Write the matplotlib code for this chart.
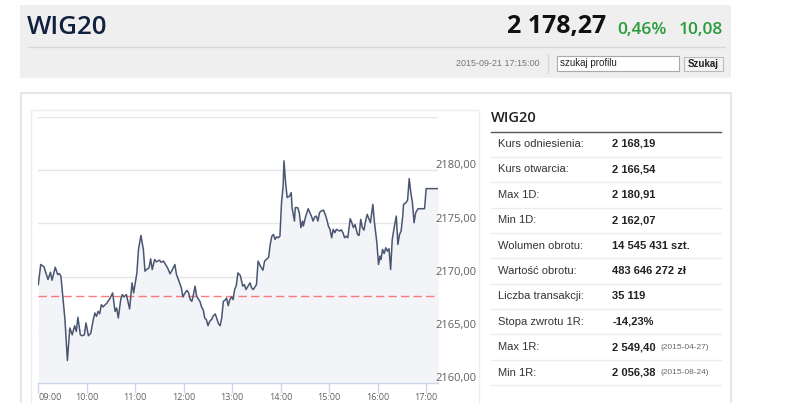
import matplotlib
matplotlib.use('Agg')
import matplotlib.pyplot as plt
from matplotlib.patches import Rectangle
from matplotlib.ticker import FixedLocator

plt.rcParams['font.family'] = ['Liberation Sans', 'DejaVu Sans']

# Notowania WIG20 - minuty od 09:00 i wartość indeksu
minuty = [0, 3, 7, 12, 15, 17, 21, 24, 26, 28, 31, 33, 36, 39, 42, 45, 47, 49, 52, 54,
          57, 59, 62, 65, 68, 70, 72, 74, 76, 78, 80, 85, 89, 92, 95, 97, 99, 102, 104, 106,
          109, 113, 116, 118, 122, 124, 127, 130, 132, 135, 137, 139, 141, 144, 146, 150, 152, 155, 157, 160,
          163, 166, 169, 171, 173, 177, 179, 181, 184, 186, 188, 190, 192, 194, 196, 198, 200, 202, 204, 206,
          208, 210, 212, 215, 216, 219, 221, 223, 225, 227, 229, 231, 233, 235, 237, 239, 241, 243, 245, 247,
          250, 253, 255, 257, 262, 264, 266, 270, 272, 275, 278, 280, 283, 285, 287, 289, 291, 293, 295, 297,
          299, 301, 303, 304, 306, 308, 311, 313, 314, 317, 318, 321, 323, 325, 327, 328, 331, 334, 336, 338,
          340, 342, 344, 346, 348, 350, 353, 355, 357, 359, 361, 363, 365, 367, 369, 373, 375, 377, 379, 381,
          383, 386, 388, 390, 392, 395, 397, 399, 401, 403, 405, 407, 409, 411, 414, 416, 419, 421, 423, 424,
          426, 428, 430, 432, 434, 436, 438, 440, 443, 445, 447, 449, 451, 452, 455, 457, 459, 461, 463, 465,
          467, 470, 478, 480, 495]
kurs = [2169.25, 2171.14, 2170.92, 2169.72, 2170.41, 2169.66, 2170.88, 2170.19, 2170.29, 2170.03,
        2167.52, 2165.95, 2162.11, 2165.17, 2164.53, 2165.38, 2164.85, 2166.17, 2164.53, 2164.44,
        2164.53, 2165.64, 2164.44, 2164.69, 2165.95, 2166.58, 2166.26, 2166.73, 2166.51, 2167.36,
        2167.15, 2167.52, 2167.99, 2168.47, 2166.73, 2167.05, 2166.11, 2167.84, 2168.31, 2168.09,
        2168.31, 2166.96, 2169.41, 2168.47, 2170.35, 2172.55, 2173.87, 2172.55, 2170.51, 2170.73,
        2170.82, 2171.67, 2170.66, 2171.61, 2171.39, 2171.54, 2171.35, 2171.45, 2171.20, 2170.82,
        2170.26, 2170.66, 2171.14, 2170.19, 2169.79, 2168.94, 2168.09, 2168.40, 2168.71, 2168.47,
        2167.84, 2167.68, 2168.31, 2169.10, 2168.15, 2167.90, 2167.68, 2167.15, 2166.89, 2166.11,
        2165.95, 2165.38, 2165.79, 2166.02, 2166.26, 2166.49, 2166.02, 2165.57, 2165.38, 2166.11,
        2167.68, 2167.77, 2167.99, 2167.27, 2167.84, 2168.09, 2167.84, 2168.80, 2169.16, 2170.35,
        2170.10, 2169.10, 2169.25, 2168.78, 2169.41, 2168.94, 2168.78, 2169.25, 2171.45, 2170.98,
        2170.60, 2171.45, 2171.67, 2171.80, 2173.02, 2173.80, 2173.96, 2173.49, 2173.74, 2173.65,
        2173.80, 2176.95, 2178.52, 2180.88, 2178.84, 2177.43, 2177.58, 2177.89, 2176.48, 2175.22,
        2176.48, 2176.48, 2176.01, 2174.60, 2175.22, 2174.75, 2175.69, 2176.38, 2176.01, 2175.69,
        2175.22, 2175.60, 2175.69, 2175.22, 2176.01, 2176.16, 2176.25, 2175.85, 2175.38, 2174.75,
        2174.44, 2173.65, 2174.44, 2174.13, 2174.44, 2174.28, 2174.40, 2174.13, 2173.65, 2173.80,
        2173.65, 2175.44, 2175.06, 2174.60, 2174.90, 2173.96, 2173.87, 2175.38, 2174.60, 2174.37,
        2175.20, 2175.85, 2175.44, 2175.06, 2176.79, 2175.06, 2173.17, 2171.14, 2171.92, 2171.61,
        2172.55, 2172.17, 2172.71, 2172.39, 2172.62, 2170.66, 2173.49, 2174.44, 2175.69, 2173.02,
        2173.96, 2174.28, 2175.69, 2176.79, 2176.95, 2177.20, 2179.21, 2177.89, 2176.95, 2175.06,
        2176.01, 2176.38, 2176.38, 2178.27, 2178.27]

kurs_odniesienia = 2168.19
godziny = ['09:00', '10:00', '11:00', '12:00', '13:00', '14:00', '15:00', '16:00', '17:00']
poziomy_y = [2160, 2165, 2170, 2175, 2180]

# Tabela z danymi
etykiety = ['Kurs odniesienia:', 'Kurs otwarcia:', 'Max 1D:', 'Min 1D:', 'Wolumen obrotu:',
            'Wartość obrotu:', 'Liczba transakcji:', 'Stopa zwrotu 1R:', 'Max 1R:', 'Min 1R:']
wartosci = ['2 168,19', '2 166,54', '2 180,91', '2 162,07', '14 545 431 szt.',
            '483 646 272 zł', '35 119', '-14,23%', '2 549,40', '2 056,38']
daty = ['', '', '', '', '', '', '', '', '(2015-04-27)', '(2015-08-24)']

W, H = 786, 403
fig = plt.figure(figsize=(W / 100, H / 100), dpi=100)
fig.patch.set_facecolor('white')

naglowek = ['Open Sans', 'DejaVu Sans']

# Warstwa w pikselach na ozdobniki
tlo = fig.add_axes([0, 0, 1, 1])
tlo.set_xlim(0, W)
tlo.set_ylim(H, 0)
tlo.axis('off')

# Naglowek
tlo.add_patch(Rectangle((20, 5), 711, 73, facecolor='#efefef', edgecolor='none'))
tlo.plot([28, 725], [46.7, 46.7], color='#d9d9d9', lw=1)
tlo.text(26.5, 34.3, 'WIG20', fontsize=18.5, fontweight='semibold', color='#10203f',
         va='baseline', ha='left', family=naglowek)
tlo.text(606, 33.5, '2 178,27', fontsize=18, fontweight='bold', color='#111111',
         va='baseline', ha='right', family=naglowek)
tlo.text(617, 33.5, '0,46%', fontsize=12.5, fontweight='semibold', color='#2a9b3c',
         va='baseline', ha='left', family=naglowek)
tlo.text(723, 33.5, '10,08', fontsize=12.5, fontweight='semibold', color='#2a9b3c',
         va='baseline', ha='right', family=naglowek)
tlo.text(540, 63.5, '2015-09-21 17:15:00', fontsize=6.5, color='#777777', va='center', ha='right')
tlo.plot([547.5, 547.5], [54, 73], color='#d6d6d6', lw=1)
tlo.add_patch(Rectangle((557, 55.5), 122, 15, facecolor='white', edgecolor='#a9a9a9', lw=0.8))
tlo.text(560, 63, 'szukaj profilu', fontsize=7, color='#222222', va='center', ha='left')
tlo.add_patch(Rectangle((684, 56.5), 38.5, 14.5, facecolor='#f4f4f4', edgecolor='#bcbcbc', lw=0.8))
tlo.text(703, 64, 'Szukaj', fontsize=7, fontweight='bold', color='#222222', va='center', ha='center')

# Panel glowny
tlo.add_patch(Rectangle((20.5, 92.5), 710, 320, facecolor='white', edgecolor='#e3e3e3', lw=1.2))
tlo.add_patch(Rectangle((31, 110), 448, 310, facecolor='white', edgecolor='#ececec', lw=1))

# Tabela
tlo.text(491, 118.5, 'WIG20', fontsize=10.5, fontweight='semibold', color='#222222',
         va='center', ha='left', family=naglowek)
tlo.plot([490.5, 720.5], [131.5, 131.5], color='#555555', lw=1)
for i, (e, w, d) in enumerate(zip(etykiety, wartosci, daty)):
    yc = 144 + i * 25.4
    tlo.text(498, yc, e, fontsize=8, color='#333333', va='center', ha='left')
    t = tlo.text(612.5, yc, w, fontsize=8, fontweight='bold', color='#222222', va='center', ha='left')
    if d:
        tlo.annotate(d, xy=(1, 0.5), xycoords=t, xytext=(3, 0), textcoords='offset points',
                     fontsize=6, color='#666666', va='center', ha='left')
    tlo.plot([490.5, 720.5], [yc + 12.7, yc + 12.7], color='#ececec', lw=1)

# Wykres
x0, x1, y0, y1 = 38.3, 438.3, 117, 383
ax = fig.add_axes([x0 / W, 1 - y1 / H, (x1 - x0) / W, (y1 - y0) / H])
ax.set_xlim(0, 495)
ax.set_ylim(2160, 2185)
ax.set_facecolor('none')
for s in ['top', 'right', 'left']:
    ax.spines[s].set_visible(False)
ax.spines['bottom'].set_color('#ccd6eb')
ax.spines['bottom'].set_linewidth(1)

for v in poziomy_y + [2185]:
    ax.axhline(v, color='#e6e6e6', lw=1, zorder=0)

ax.fill_between(minuty, kurs, 2160, color='#f3f4f8', zorder=1, lw=0)
ax.plot(minuty, kurs, color='#4a5671', lw=1.1, zorder=3)
ax.axhline(kurs_odniesienia, color='#ff5a5a', lw=1, ls=(0, (6, 3)), zorder=2, alpha=0.8)

ax.yaxis.set_visible(False)
for v in poziomy_y:
    ax.text(0.992, v + 0.4, f'{v},00', transform=ax.get_yaxis_transform(), fontsize=8,
            color='#606060', ha='left', va='center', clip_on=False, family=naglowek)

pozycje = [i * 60 for i in range(len(godziny))]
ax.xaxis.set_major_locator(FixedLocator(pozycje))
ax.set_xticklabels(godziny, fontsize=6.5, color='#606060', family=naglowek)
ax.tick_params(axis='x', length=7, width=1, color='#ccd6eb', pad=0)
ax.get_xticklabels()[0].set_horizontalalignment('left')

fig.savefig('out.png', dpi=100, facecolor='white')
